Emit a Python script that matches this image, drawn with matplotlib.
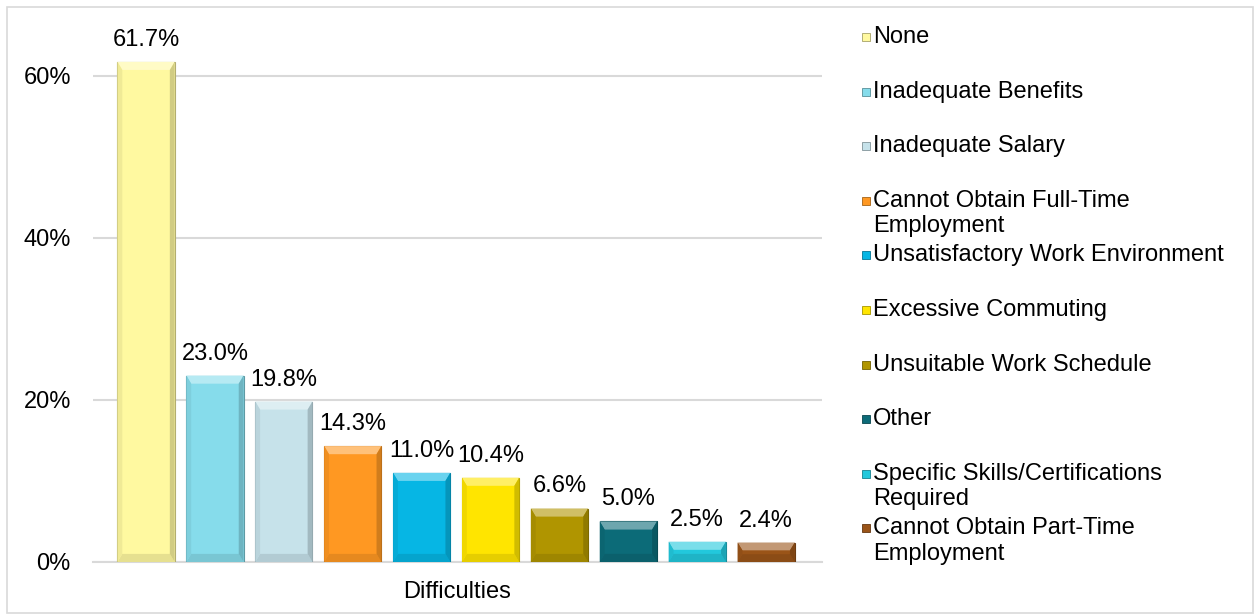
import matplotlib.pyplot as plt
import matplotlib.colors as mcolors
from matplotlib.patches import Rectangle, Polygon
from matplotlib.ticker import FuncFormatter

plt.rcParams['font.family'] = ['Liberation Sans', 'DejaVu Sans']

categories = [
    "None",
    "Inadequate Benefits",
    "Inadequate Salary",
    "Cannot Obtain Full-Time\nEmployment",
    "Unsatisfactory Work Environment",
    "Excessive Commuting",
    "Unsuitable Work Schedule",
    "Other",
    "Specific Skills/Certifications\nRequired",
    "Cannot Obtain Part-Time\nEmployment",
]
values = [61.7, 23.0, 19.8, 14.3, 11.0, 10.4, 6.6, 5.0, 2.5, 2.4]
colors = ["#FFF9A0", "#86DCEB", "#C6E2EA", "#FF9822", "#06B6E4",
          "#FFE500", "#B09500", "#0C6B78", "#22C8DC", "#9A5418"]
yticks = [0, 20, 40, 60]
xlabel = "Difficulties"

FS = 17


def shade(c, f):
    r, g, b = mcolors.to_rgb(c)
    if f > 0:
        return (r + (1 - r) * f, g + (1 - g) * f, b + (1 - b) * f)
    return (r * (1 + f), g * (1 + f), b * (1 + f))


W, H = 1260, 616
fig = plt.figure(figsize=(W / 100, H / 100), dpi=100)
ax = fig.add_axes([93 / W, 1 - 562 / H, (822 - 93) / W, (562 - 27) / H])

# outer chart frame
fig.patches.append(Rectangle((7 / W, 3 / H), (1253 - 7) / W, (609 - 3) / H,
                             transform=fig.transFigure, fill=False,
                             edgecolor="#D9D9D9", linewidth=1.2))

x = list(range(len(values)))
bw = 0.83
ax.set_xlim(-0.77, 9.81)
ax.set_ylim(0, 66)
ax.bar(x, values, width=bw, color=colors, zorder=3,
       edgecolor=[shade(c, -0.3) for c in colors], linewidth=0.8)

# bevel: lighter top strip, darker bottom and side strips
bx = 0.07
by = 1.0
for xi, v, c in zip(x, values, colors):
    l, r = xi - bw / 2, xi + bw / 2
    d = min(by, v / 2.5)
    ax.add_patch(Polygon([(l, v), (r, v), (r - bx, v - d), (l + bx, v - d)],
                         closed=True, facecolor=shade(c, 0.4), edgecolor="none", zorder=4))
    ax.add_patch(Polygon([(l, 0), (r, 0), (r - bx, d), (l + bx, d)],
                         closed=True, facecolor=shade(c, -0.1), edgecolor="none", zorder=4))
    ax.add_patch(Polygon([(r, 0), (r, v), (r - bx, v - d), (r - bx, d)],
                         closed=True, facecolor=shade(c, -0.18), edgecolor="none", zorder=4))
    ax.add_patch(Polygon([(l, 0), (l, v), (l + bx, v - d), (l + bx, d)],
                         closed=True, facecolor=shade(c, -0.06), edgecolor="none", zorder=4))
    ax.annotate(f"{v:.1f}%", (xi, v), xytext=(0, 22),
                textcoords="offset pixels", ha="center", va="center",
                fontsize=FS, annotation_clip=False, zorder=5)

ax.set_yticks(yticks)
ax.yaxis.set_major_formatter(FuncFormatter(lambda v, p: f"{v:.0f}%"))
ax.yaxis.grid(True, color="#D9D9D9", linewidth=1.5, zorder=0)
ax.set_xticks([])
for s in ["top", "right", "left"]:
    ax.spines[s].set_visible(False)
ax.spines["bottom"].set_color("#D9D9D9")
ax.spines["bottom"].set_linewidth(1.5)
ax.tick_params(axis="y", length=0, labelsize=FS, pad=16)
ax.set_xlabel(xlabel, fontsize=FS, labelpad=14)

# legend, drawn as a column of markers and labels
ly0, lstep = 36, 54.6
for i, (name, c) in enumerate(zip(categories, colors)):
    yc = ly0 + i * lstep
    fig.patches.append(Rectangle((862 / W, 1 - (yc + 5) / H), 8 / W, 8 / H,
                                 transform=fig.transFigure, facecolor=c,
                                 edgecolor=shade(c, -0.35), linewidth=0.6))
    fig.text(873 / W, 1 - (yc - 10) / H, name, fontsize=FS, va="top",
             ha="left", linespacing=1.2)

fig.savefig("out.png", dpi=100)
